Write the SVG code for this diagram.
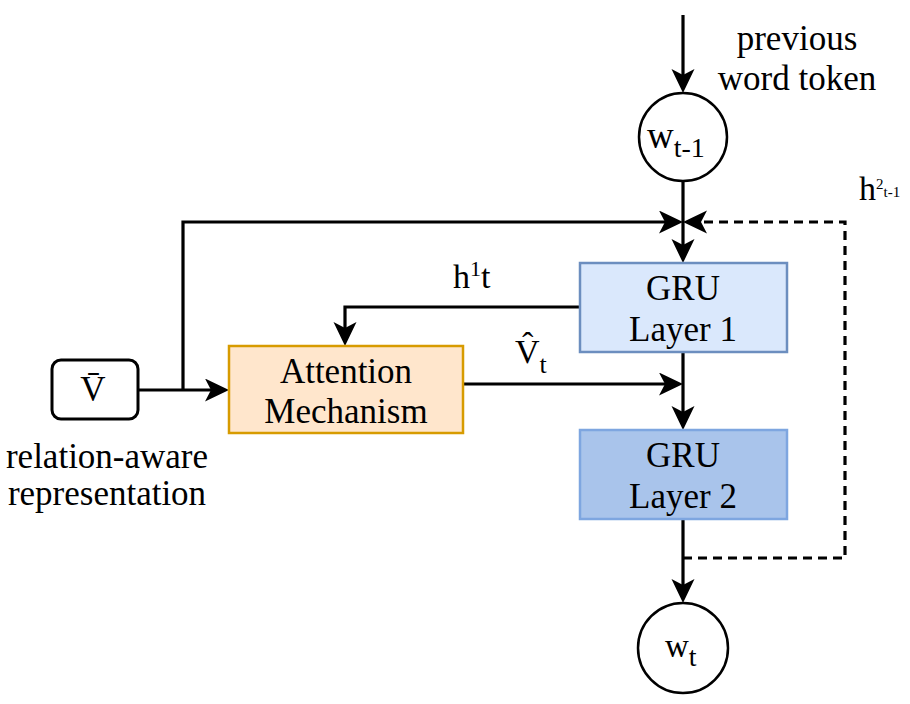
<svg xmlns="http://www.w3.org/2000/svg" width="910" height="704" viewBox="0 0 910 704">
<style>
text{font-family:"Liberation Serif","Times New Roman",serif;fill:#000}
.t{font-size:35px}
.c{text-anchor:middle}
.ln{fill:none;stroke:#000;stroke-width:3.2}
.ds{stroke-dasharray:9 6}
.node{stroke-width:2.5}
</style>
<defs>
<marker id="arr" markerWidth="25" markerHeight="24" refX="14" refY="11.5" orient="auto" markerUnits="userSpaceOnUse">
<path d="M0,0 L24,11.5 L0,23 L6,11.5 z" fill="#000"/>
</marker>
</defs>
<rect width="910" height="704" fill="#fff"/>
<g id="connectors">
<path class="ln" d="M683,15 V83" marker-end="url(#arr)"/>
<path class="ln" d="M683,181 V253" marker-end="url(#arr)"/>
<path class="ln" d="M138,390 H219" marker-end="url(#arr)"/>
<path class="ln" d="M183,390 V222 H673" marker-end="url(#arr)"/>
<path class="ln ds" d="M683,558 H845 V222 H693" marker-end="url(#arr)"/>
<path class="ln" d="M580,307 H345 V336" marker-end="url(#arr)"/>
<path class="ln" d="M463,384 H673" marker-end="url(#arr)"/>
<path class="ln" d="M683,352 V420" marker-end="url(#arr)"/>
<path class="ln" d="M683,519 V593" marker-end="url(#arr)"/>
</g>
<g id="labels">
<text class="t c" x="797" y="50">previous</text>
<text class="t c" x="797" y="90">word token</text>
<text x="859" y="200" font-size="34">h<tspan font-size="15" dy="-11">2</tspan><tspan font-size="15" dy="8">t-1</tspan></text>
<text x="453" y="288" font-size="34">h<tspan font-size="22" dy="-12">1</tspan><tspan dy="12">t</tspan></text>
<text x="515" y="363" font-size="34">V̂<tspan font-size="26" dy="10">t</tspan></text>
<text class="t c" x="107" y="468">relation-aware</text>
<text class="t c" x="107" y="505">representation</text>
</g>
<g id="w_prev">
<circle cx="683" cy="137" r="44" fill="#fff" stroke="#000" stroke-width="2.5"/>
<text x="647" y="148" font-size="37">w<tspan font-size="28" dy="9">t-1</tspan></text>
</g>
<g id="vbar">
<rect x="52" y="360" width="86" height="59" rx="9" fill="#fff" stroke="#000" stroke-width="3"/>
<text class="t c" x="93" y="401">V̄</text>
</g>
<g id="attention">
<rect class="node" x="229" y="346" width="234" height="87" fill="#ffe6cc" stroke="#d79b00"/>
<text class="t c" x="346" y="383">Attention</text>
<text class="t c" x="346" y="423">Mechanism</text>
</g>
<g id="gru1">
<rect class="node" x="580" y="263" width="207" height="89" fill="#dae8fc" stroke="#6c8ebf"/>
<text class="t c" x="683" y="300">GRU</text>
<text class="t c" x="683" y="341">Layer 1</text>
</g>
<g id="gru2">
<rect class="node" x="580" y="430" width="207" height="89" fill="#a9c4eb" stroke="#7ea6e0"/>
<text class="t c" x="683" y="467">GRU</text>
<text class="t c" x="683" y="508">Layer 2</text>
</g>
<g id="w_t">
<circle cx="683" cy="648" r="45" fill="#fff" stroke="#000" stroke-width="2.5"/>
<text x="665" y="657" font-size="33">w<tspan font-size="28" dy="9">t</tspan></text>
</g>
</svg>
